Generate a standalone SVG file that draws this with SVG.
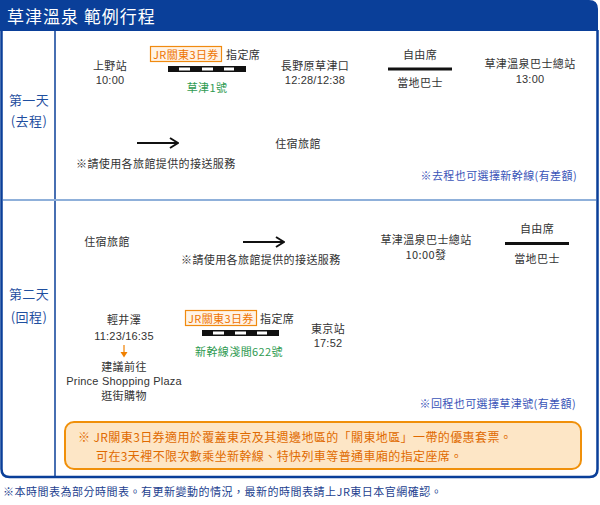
<svg xmlns="http://www.w3.org/2000/svg" width="600" height="505" viewBox="0 0 600 505">
<defs>
<style>
text{font-family:"Noto Sans CJK TC","Liberation Sans",sans-serif;font-size:11px;fill:#333;letter-spacing:0.4px}
.lat{font-family:"Liberation Sans","Noto Sans CJK TC",sans-serif;letter-spacing:0.2px}
.c{text-anchor:middle}
.r{text-anchor:end}
.day{fill:#1f4f9f;font-size:13px}
.grn{fill:#2e9a50}
.blu{fill:#3a55b8}
.org{fill:#ee7300}
.jr{fill:#fff3e6;stroke:#f08a10;stroke-width:1.2}
.bar{fill:#111}
.dash{fill:#fff}
.bl{stroke:#111;stroke-width:3}
.arr{stroke:#111;stroke-width:2;fill:none}
.note{fill:#e06a00;font-size:12px}
</style>
<marker id="ah" viewBox="0 0 10 12" refX="9" refY="6" markerWidth="10" markerHeight="12" markerUnits="userSpaceOnUse" orient="auto">
<path d="M1,1 L9,6 L1,11" fill="none" stroke="#111" stroke-width="2"/>
</marker>
</defs>

<g id="frame">
<path d="M1.5,30 V469 Q1.5,477 9.5,477 H589.5 Q597.5,477 597.5,469 V30" fill="none" stroke="#0a3f99" stroke-width="2.5"/>
<path d="M0,0 H589 Q598,0 598,9 V31 H0 Z" fill="#0a3f99"/>
<text x="7" y="23" style="font-size:17px;fill:#fff;letter-spacing:1px">草津溫泉  範例行程</text>
<line x1="55" y1="31" x2="55" y2="476" stroke="#0a3f99" stroke-width="1.5"/>
<line x1="3" y1="200" x2="596" y2="200" stroke="#8fb0da" stroke-width="2"/>
</g>

<g id="day1-label">
<text class="day c" x="29" y="105">第一天</text>
<text class="day c" x="29" y="126">(去程)</text>
</g>
<g id="day2-label">
<text class="day c" x="29" y="299">第二天</text>
<text class="day c" x="29" y="322">(回程)</text>
</g>

<g id="connectors">
<g id="d1-train">
<rect class="jr" x="150.5" y="46.5" width="71" height="15"/>
<text class="org" x="153" y="58.5">JR關東3日券</text>
<text x="226" y="58.5">指定席</text>
<rect class="bar" x="168" y="66" width="78" height="6"/>
<rect class="dash" x="179" y="67.5" width="11" height="3"/>
<rect class="dash" x="202" y="67.5" width="11" height="3"/>
<rect class="dash" x="224" y="67.5" width="10" height="3"/>
<text class="grn c" x="207" y="92">草津1號</text>
</g>
<g id="d1-bus">
<text class="c" x="420" y="59">自由席</text>
<line class="bl" x1="388" y1="69" x2="452" y2="69"/>
<text class="c" x="420" y="87">當地巴士</text>
</g>
<g id="d1-shuttle">
<line class="arr" x1="137" y1="143" x2="178" y2="143" marker-end="url(#ah)"/>
<text x="76" y="168">※請使用各旅館提供的接送服務</text>
</g>
<g id="d2-shuttle">
<line class="arr" x1="243" y1="242" x2="284" y2="242" marker-end="url(#ah)"/>
<text x="181" y="264">※請使用各旅館提供的接送服務</text>
</g>
<g id="d2-bus">
<text class="c" x="537" y="233">自由席</text>
<line class="bl" x1="505" y1="243.5" x2="569" y2="243.5"/>
<text class="c" x="537" y="263">當地巴士</text>
</g>
<g id="d2-train">
<rect class="jr" x="185.5" y="310.5" width="71" height="15"/>
<text class="org" x="188" y="322.5">JR關東3日券</text>
<text x="260" y="322.5">指定席</text>
<rect class="bar" x="202" y="330" width="77" height="6"/>
<rect class="dash" x="213" y="331.5" width="11" height="3"/>
<rect class="dash" x="235" y="331.5" width="11" height="3"/>
<rect class="dash" x="257" y="331.5" width="10" height="3"/>
<text class="grn c" x="239" y="356">新幹線淺間622號</text>
</g>
<g id="d2-walk">
<line x1="124" y1="345" x2="124" y2="353" stroke="#f08000" stroke-width="1.2"/>
<path d="M120.5,352 L127.5,352 L124,357.5 Z" fill="#f08000"/>
</g>
</g>

<g id="n-ueno"><text class="c" x="110" y="70">上野站</text><text class="c lat" x="110" y="84">10:00</text></g>
<g id="n-naganohara"><text class="c" x="315" y="70">長野原草津口</text><text class="c lat" x="315" y="84">12:28/12:38</text></g>
<g id="n-kusatsu1"><text class="c" x="530" y="68">草津溫泉巴士總站</text><text class="c lat" x="530" y="83">13:00</text></g>
<g id="n-hotel1"><text class="c" x="298" y="148">住宿旅館</text></g>
<g id="n-note1"><text class="blu r" x="577" y="180">※去程也可選擇新幹線(有差額)</text></g>

<g id="n-hotel2"><text class="c" x="107" y="246">住宿旅館</text></g>
<g id="n-kusatsu2"><text class="c" x="426" y="244">草津溫泉巴士總站</text><text class="c" x="426" y="259">10:00發</text></g>
<g id="n-karuizawa"><text class="c" x="124" y="324">輕井澤</text><text class="c lat" x="124" y="340">11:23/16:35</text></g>
<g id="n-shopping"><text class="c" x="124" y="371">建議前往</text><text class="c lat" x="124" y="385">Prince Shopping Plaza</text><text class="c" x="124" y="400">逛街購物</text></g>
<g id="n-tokyo"><text class="c" x="328" y="333">東京站</text><text class="c lat" x="328" y="347">17:52</text></g>
<g id="n-note2"><text class="blu r" x="576" y="408">※回程也可選擇草津號(有差額)</text></g>

<g id="n-jrnote">
<rect x="65" y="422" width="516" height="47" rx="9" fill="#fde6c6" stroke="#f0900a" stroke-width="2"/>
<text class="note" x="78" y="442">※ JR關東3日券適用於覆蓋東京及其週邊地區的「關東地區」一帶的優惠套票。</text>
<text class="note" x="96" y="461">可在3天裡不限次數乘坐新幹線、特快列車等普通車廂的指定座席。</text>
</g>

<g id="n-footer"><text x="3" y="496" style="fill:#1d3f8f;letter-spacing:0.5px">※本時間表為部分時間表。有更新變動的情況，最新的時間表請上JR東日本官網確認。</text></g>
</svg>
